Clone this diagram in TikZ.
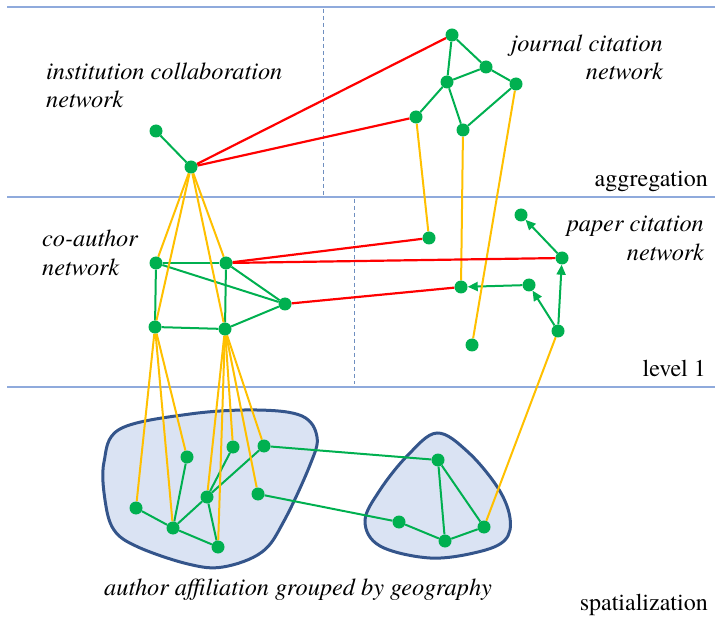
\documentclass[tikz,border=0pt]{standalone}
\usepackage{fontspec}
\newfontfamily\figserif{texgyretermes}[Extension=.otf,UprightFont=*-regular,ItalicFont=*-italic]
\usetikzlibrary{arrows.meta}
\definecolor{netgreen}{HTML}{00B050}
\definecolor{netred}{HTML}{FF0000}
\definecolor{netyellow}{HTML}{FFC000}
\definecolor{rulecol}{HTML}{8FAADC}
\definecolor{dashcol}{HTML}{6F8FC0}
\definecolor{blobfill}{HTML}{DAE3F3}
\definecolor{blobedge}{HTML}{34558B}
\pgfdeclarelayer{regions}
\pgfdeclarelayer{links}
\pgfsetlayers{regions,links,main}
\begin{document}
\begin{tikzpicture}[x=1pt,y=-1pt,
  vertex/.style={circle,fill=netgreen,inner sep=0pt,minimum size=13pt},
  gedge/.style={draw=netgreen,line width=2pt},
  redge/.style={draw=netred,line width=2.2pt},
  yedge/.style={draw=netyellow,line width=2pt},
  cite/.style={gedge,-{Triangle[length=10pt,width=9pt]}},
  levelrule/.style={draw=rulecol,line width=1.5pt},
  divider/.style={draw=dashcol,line width=1pt,dash pattern=on 4pt off 3pt},
  blob/.style={draw=blobedge,fill=blobfill,line width=3pt},
  lab/.style={font=\figserif\fontsize{24.3}{29}\selectfont\itshape,inner sep=0pt},
  tag/.style={font=\figserif\fontsize{24}{29}\selectfont,inner sep=0pt}]
\useasboundingbox (0,0) rectangle (715,620);

% ---------- vertices ----------
% institution collaboration network
\node[vertex] (i1) at (156,131) {};
\node[vertex] (ih) at (191,167) {};
% journal citation network
\node[vertex] (j1) at (452,35) {};
\node[vertex] (j2) at (486,67) {};
\node[vertex] (j3) at (447,82) {};
\node[vertex] (j4) at (516,84) {};
\node[vertex] (j5) at (416,117) {};
\node[vertex] (j6) at (463,130) {};
% co-author network
\node[vertex] (a1) at (156,263) {};
\node[vertex] (a2) at (226,263) {};
\node[vertex] (a3) at (285,304) {};
\node[vertex] (a4) at (155,327) {};
\node[vertex] (a5) at (225,329) {};
% paper citation network
\node[vertex] (p1) at (521,215) {};
\node[vertex] (p2) at (429,238) {};
\node[vertex] (p3) at (562,258) {};
\node[vertex] (p4) at (461,287) {};
\node[vertex] (p5) at (529,285) {};
\node[vertex] (p6) at (558,331) {};
\node[vertex] (p7) at (472,345) {};
% author affiliations, west region
\node[vertex] (s1) at (136,508) {};
\node[vertex] (s2) at (173,528) {};
\node[vertex] (s3) at (187,457) {};
\node[vertex] (s4) at (207,497) {};
\node[vertex] (s5) at (218,547) {};
\node[vertex] (s6) at (233,447) {};
\node[vertex] (s7) at (264,446) {};
\node[vertex] (s8) at (258,494) {};
% author affiliations, east region
\node[vertex] (r1) at (438,460) {};
\node[vertex] (r2) at (399,522) {};
\node[vertex] (r3) at (445,541) {};
\node[vertex] (r4) at (484,527) {};

% ---------- level separators and geographic regions ----------
\begin{pgfonlayer}{regions}
  \coordinate (l0w) at (7,7);   \coordinate (l0e) at (715,7);
  \coordinate (l1w) at (7,197); \coordinate (l1e) at (715,197);
  \coordinate (l2w) at (7,387); \coordinate (l2e) at (715,387);
  \draw[levelrule] (l0w) -- (l0e);
  \draw[levelrule] (l1w) -- (l1e);
  \draw[levelrule] (l2w) -- (l2e);
  \coordinate (d1t) at (323,9);   \coordinate (d1b) at (323,195);
  \coordinate (d2t) at (354,199); \coordinate (d2b) at (354,384);
  \draw[divider] (d1t) -- (d1b);
  \draw[divider] (d2t) -- (d2b);
  \draw[blob] plot[smooth cycle,tension=0.6] coordinates {
    (104,462) (120,429) (190,414) (257,410) (302,416) (317,437)
    (310,465) (284,521) (262,552) (223,567) (188,564) (138,547)
    (114,530) (105,500)};
  \draw[blob] plot[smooth cycle,tension=0.6] coordinates {
    (437,433) (408,455) (380,490) (365,521) (380,546) (430,558)
    (478,552) (505,540) (510,518) (498,488) (468,452)};
\end{pgfonlayer}

% ---------- connectors ----------
\begin{pgfonlayer}{links}
  % intra-level links
  \draw[gedge] (i1) -- (ih);
  \draw[gedge] (j1) -- (j3);
  \draw[gedge] (j1) -- (j2);
  \draw[gedge] (j3) -- (j2);
  \draw[gedge] (j2) -- (j4);
  \draw[gedge] (j3) -- (j5);
  \draw[gedge] (j3) -- (j6);
  \draw[gedge] (j6) -- (j4);
  \draw[gedge] (a1) -- (a2);
  \draw[gedge] (a1) -- (a4);
  \draw[gedge] (a1) -- (a3);
  \draw[gedge] (a2) -- (a3);
  \draw[gedge] (a2) -- (a5);
  \draw[gedge] (a4) -- (a5);
  \draw[gedge] (a5) -- (a3);
  \draw[cite] (p3) -- (p1);
  \draw[cite] (p5) -- (p4);
  \draw[cite] (p6) -- (p5);
  \draw[cite] (p6) -- (p3);
  \draw[gedge] (s1) -- (s2);
  \draw[gedge] (s2) -- (s3);
  \draw[gedge] (s2) -- (s4);
  \draw[gedge] (s2) -- (s5);
  \draw[gedge] (s4) -- (s5);
  \draw[gedge] (s4) -- (s6);
  \draw[gedge] (s4) -- (s7);
  \draw[gedge] (s7) -- (r1);
  \draw[gedge] (s8) -- (r2);
  \draw[gedge] (r1) -- (r3);
  \draw[gedge] (r1) -- (r4);
  \draw[gedge] (r2) -- (r3);
  \draw[gedge] (r3) -- (r4);
  % aggregation / spatialization links
  \draw[yedge] (ih) -- (a1);
  \draw[yedge] (ih) -- (a2);
  \draw[yedge] (ih) -- (a4);
  \draw[yedge] (ih) -- (a5);
  \draw[yedge] (j5) -- (p2);
  \draw[yedge] (j6) -- (p4);
  \draw[yedge] (j4) -- (p7);
  \draw[yedge] (a4) -- (s1);
  \draw[yedge] (a4) -- (s2);
  \draw[yedge] (a4) -- (s3);
  \draw[yedge] (a5) -- (s4);
  \draw[yedge] (a5) -- (s5);
  \draw[yedge] (a5) -- (s6);
  \draw[yedge] (a5) -- (s7);
  \draw[yedge] (a5) -- (s8);
  \draw[yedge] (p6) -- (r4);
  % cross-network links
  \draw[redge] (ih) -- (j1);
  \draw[redge] (ih) -- (j5);
  \draw[redge] (a2) -- (p2);
  \draw[redge] (a2) -- (p3);
  \draw[redge] (a3) -- (p4);
\end{pgfonlayer}

% ---------- labels ----------
\node[lab,anchor=base west] (t1a) at (46,80) {institution collaboration};
\node[lab,anchor=base west] (t1b) at (46,108) {network};
\node[lab,anchor=base east] (t2a) at (663,52) {journal citation};
\node[lab,anchor=base east] (t2b) at (663,80) {network};
\node[tag,anchor=base east] (t3) at (708,187) {aggregation};
\node[lab,anchor=base west] (t4a) at (42,247) {co-author};
\node[lab,anchor=base west] (t4b) at (42,276) {network};
\node[lab,anchor=base east] (t5a) at (704,232) {paper citation};
\node[lab,anchor=base east] (t5b) at (704,261) {network};
\node[tag,anchor=base east] (t6) at (706,377) {level 1};
\node[lab,anchor=base west] (t7) at (104,595) {author affiliation grouped by geography};
\node[tag,anchor=base east] (t8) at (708,610) {spatialization};
\end{tikzpicture}
\end{document}
